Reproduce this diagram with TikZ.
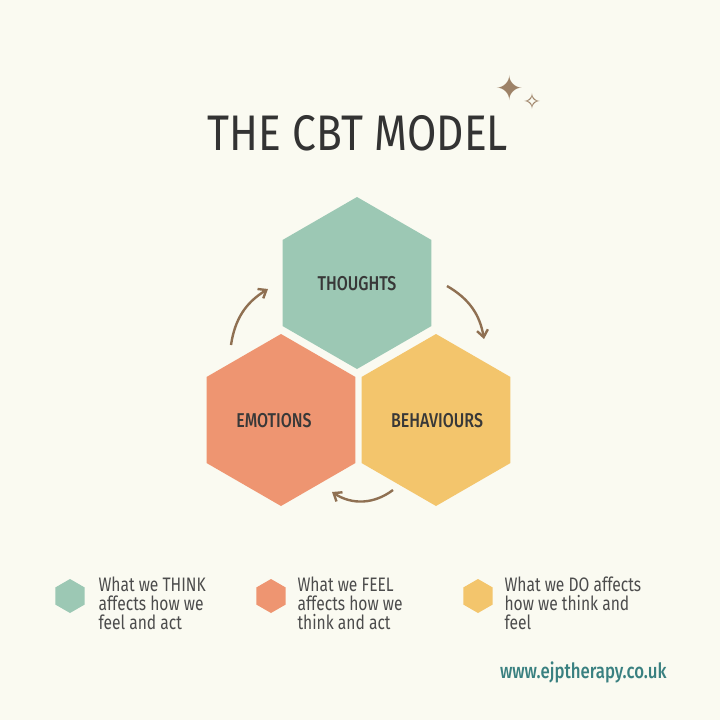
\documentclass[tikz,border=0pt]{standalone}
\usetikzlibrary{arrows.meta}
\usepackage{fontspec}
\setmainfont{Fira Sans}[FakeStretch=0.8]
\newfontfamily\medfont{Fira Sans Medium}[FakeStretch=0.8]
\newfontfamily\titlefont{Fira Sans}[FakeStretch=0.85]
\newfontfamily\symf{DejaVu Sans}
\begin{document}
\begin{tikzpicture}[x=1pt,y=-1pt,
  lab/.style={font=\medfont\fontsize{20}{22}\selectfont, text=black!78},
  leg/.style={font=\fontsize{19.5}{19}\selectfont, text=black!70, align=left, anchor=north west},
  arr/.style={draw=brown!60!black!80, line width=2.4pt, -{Straight Barb[length=7pt,width=11pt]}}]
\definecolor{teal1}{HTML}{9CC8B4}
\definecolor{org1}{HTML}{EE9571}
\definecolor{yel1}{HTML}{F3C56C}
\definecolor{bg}{HTML}{FAFAF1}
\fill[bg] (0,0) rectangle (720,720);
\useasboundingbox (0,0) rectangle (720,720);
\newcommand{\hexagon}[4]{\fill[#4] (#1,#2) +(90:#3) -- +(30:#3) -- +(-30:#3) -- +(-90:#3) -- +(-150:#3) -- +(150:#3) -- cycle;}
\hexagon{357}{283}{86}{teal1}
\hexagon{281}{420}{86}{org1}
\hexagon{436}{420}{86}{yel1}
\node[lab] (th) at (357,284) {THOUGHTS};
\node[lab] (em) at (274,421) {EMOTIONS};
\node[lab] (be) at (437,421) {BEHAVIOURS};
\node[font=\titlefont\fontsize{50}{50}\selectfont, text=black!80] (title) at (358,133) {THE CBT MODEL};
\node[font=\symf\fontsize{34}{34}\selectfont, text=brown!60!black!70] (s1) at (510,88) {✦};
\node[font=\symf\fontsize{22}{22}\selectfont, text=brown!60!black!70] (s2) at (532,101) {✧};
\coordinate (a1) at (231,345); \coordinate (a2) at (268,289);
\coordinate (b1) at (447,286); \coordinate (b2) at (484,339);
\coordinate (c1) at (393,490); \coordinate (c2) at (332,492);
\draw[arr] (a1) to[bend left=25] (a2);
\draw[arr] (b1) to[bend left=25] (b2);
\draw[arr] (c1) to[bend left=35] (c2);
\hexagon{70}{596}{17}{teal1}
\hexagon{271}{596}{17}{org1}
\hexagon{478}{596}{17}{yel1}
\node[leg] (l1) at (95,573) {What we THINK\\affects how we\\feel and act};
\node[leg] (l2) at (294,573) {What we FEEL\\affects how we\\think and act};
\node[leg] (l3) at (501,573) {What we DO affects\\how we think and\\feel};
\node[font=\medfont\fontsize{21}{21}\selectfont, text=teal!55!gray, anchor=east] (url) at (670,672) {www.ejptherapy.co.uk};
\end{tikzpicture}
\end{document}
